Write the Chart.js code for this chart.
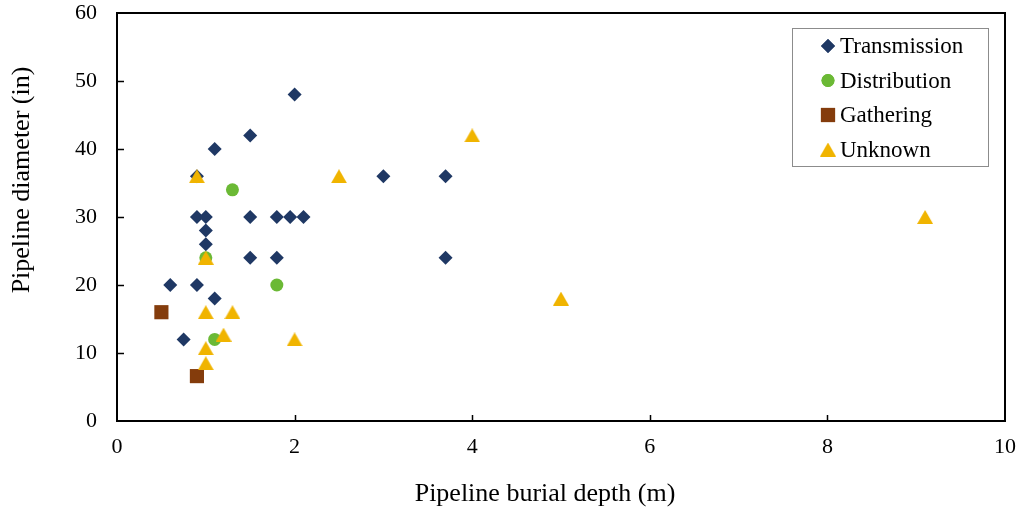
<!DOCTYPE html>
<html>
<head>
<meta charset="utf-8">
<script src="https://cdn.jsdelivr.net/npm/chart.js@4/dist/chart.umd.min.js"></script>
<style>
  html, body { margin: 0; padding: 0; background: #fff; }
  #wrap { width: 1022px; height: 515px; }
</style>
</head>
<body>
<div id="wrap"><canvas id="chart" width="1022" height="515"></canvas></div>
<script>
// burial depth (m), diameter (in)
const transmissionX = [0.6, 0.75, 0.9, 0.9, 0.9, 1.0, 1.0, 1.0, 1.1, 1.1, 1.5, 1.5, 1.5, 1.8, 1.8, 1.95, 2.1, 2.0, 3.0, 3.7, 3.7];
const transmissionY = [20, 12, 36, 30, 20, 30, 28, 26, 18, 40, 42, 30, 24, 30, 24, 30, 30, 48, 36, 36, 24];

const distributionX = [1.3, 1.0, 1.8, 1.1];
const distributionY = [34, 24, 20, 12];

const gatheringX = [0.5, 0.9];
const gatheringY = [16, 6.6];

const unknownX = [0.9, 1.0, 1.0, 1.3, 1.2, 1.0, 1.0, 2.0, 2.5, 4.0, 5.0, 9.1];
const unknownY = [36, 24, 16, 16, 12.7, 10.7, 8.5, 12, 36, 42, 18, 30];

const xTicks = [0, 2, 4, 6, 8, 10];
const yTicks = [0, 10, 20, 30, 40, 50, 60];

const seriesNames = ['Transmission', 'Distribution', 'Gathering', 'Unknown'];
const colors = ['#1F3864', '#6BB935', '#843C0C', '#F0B400'];
const radii = [7, 6.5, 10, 8.5];

const xTitle = 'Pipeline burial depth (m)';
const yTitle = 'Pipeline diameter (in)';

// Excel centres its triangle marker on the box, not the circumcentre
function triangleMarker(color) {
    const c = document.createElement('canvas');
    c.width = 16; c.height = 14;
    const g = c.getContext('2d');
    g.fillStyle = color;
    g.beginPath();
    g.moveTo(8, 0);
    g.lineTo(16, 14);
    g.lineTo(0, 14);
    g.closePath();
    g.fill();
    return c;
}

const shapes = ['rectRot', 'circle', 'rect', triangleMarker(colors[3])];

function pairs(xs, ys) {
    return xs.map((x, i) => ({x: x, y: ys[i]}));
}

const allData = [
    pairs(transmissionX, transmissionY),
    pairs(distributionX, distributionY),
    pairs(gatheringX, gatheringY),
    pairs(unknownX, unknownY)
];

const FONT = 'Liberation Serif';

// frame, inward tick marks, axis titles and the boxed legend, Excel style
const excelBits = {
    id: 'excelBits',
    afterDatasetsDraw(chart) {
        const ctx = chart.ctx;
        const a = chart.chartArea;
        const xs = chart.scales.x, ys = chart.scales.y;
        ctx.save();
        ctx.strokeStyle = '#000';
        ctx.lineWidth = 2;
        ctx.strokeRect(a.left, a.top, a.right - a.left, a.bottom - a.top);
        ctx.lineWidth = 1.5;
        ctx.beginPath();
        xTicks.slice(1, -1).forEach(v => {
            const px = Math.round(xs.getPixelForValue(v)) + 0.5;
            ctx.moveTo(px, a.bottom);
            ctx.lineTo(px, a.bottom - 6);
        });
        yTicks.slice(1, -1).forEach(v => {
            const py = Math.round(ys.getPixelForValue(v)) + 0.5;
            ctx.moveTo(a.left, py);
            ctx.lineTo(a.left + 7, py);
        });
        ctx.stroke();

        // axis titles (Excel puts them a little off centre)
        ctx.fillStyle = '#000';
        ctx.font = '26px "' + FONT + '"';
        ctx.textAlign = 'center';
        ctx.textBaseline = 'middle';
        ctx.fillText(xTitle, 545, 494);
        ctx.save();
        ctx.translate(22, 180);
        ctx.rotate(-Math.PI / 2);
        ctx.fillText(yTitle, 0, 0);
        ctx.restore();

        // legend
        const lx = 792, ly = 28, lw = 196, lh = 138;
        ctx.fillStyle = '#fff';
        ctx.fillRect(lx, ly, lw, lh);
        ctx.strokeStyle = '#8c8c8c';
        ctx.lineWidth = 1;
        ctx.strokeRect(lx + 0.5, ly + 0.5, lw, lh);
        ctx.font = '23px "' + FONT + '"';
        ctx.textBaseline = 'middle';
        ctx.textAlign = 'left';
        chart.data.datasets.forEach((ds, i) => {
            const cy = 46 + i * 34.5;
            ctx.fillStyle = ds.backgroundColor;
            ctx.beginPath();
            Chart.helpers.drawPoint(ctx, {pointStyle: ds.pointStyle, radius: ds.pointRadius, borderWidth: 0}, 828, cy);
            ctx.fill();
            ctx.fillStyle = '#000';
            ctx.fillText(ds.label, 840, cy + 1);
        });
        ctx.restore();
    }
};

new Chart(document.getElementById('chart'), {
    type: 'scatter',
    data: {
        datasets: seriesNames.map((name, i) => ({
            label: name,
            data: allData[i],
            backgroundColor: colors[i],
            borderColor: colors[i],
            borderWidth: 0,
            pointStyle: shapes[i],
            pointRadius: radii[i],
            pointHoverRadius: radii[i],
            order: 3 - i
        }))
    },
    options: {
        responsive: false,
        animation: false,
        events: [],
        layout: { padding: { top: 13, right: 17, left: 0, bottom: 0 } },
        plugins: {
            legend: { display: false },
            tooltip: { enabled: false }
        },
        scales: {
            x: {
                type: 'linear',
                min: 0, max: 10,
                afterFit: s => { s.height = 94; s.paddingLeft = 0; s.paddingRight = 0; },
                afterBuildTicks: s => { s.ticks = xTicks.map(v => ({value: v})); },
                grid: { display: false, drawTicks: false },
                border: { display: false },
                ticks: { color: '#000', font: { family: FONT, size: 22 }, padding: 13, maxRotation: 0 }
            },
            y: {
                type: 'linear',
                min: 0, max: 60,
                afterFit: s => { s.width = 117; s.paddingTop = 0; s.paddingBottom = 0; },
                afterBuildTicks: s => { s.ticks = yTicks.map(v => ({value: v})); },
                grid: { display: false, drawTicks: false },
                border: { display: false },
                ticks: { color: '#000', font: { family: FONT, size: 22 }, padding: 20 }
            }
        }
    },
    plugins: [excelBits]
});
</script>
</body>
</html>
